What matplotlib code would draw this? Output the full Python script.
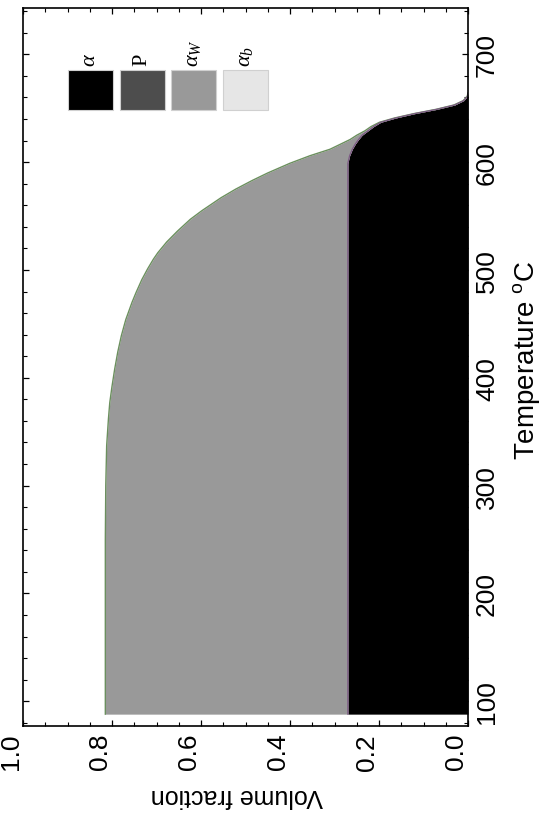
import matplotlib
matplotlib.use("Agg")
import matplotlib.pyplot as plt
from matplotlib.patches import Rectangle
from matplotlib.ticker import MultipleLocator

plt.rcParams['font.family'] = ['Liberation Sans', 'DejaVu Sans']
plt.rcParams['mathtext.fontset'] = 'custom'
plt.rcParams['mathtext.rm'] = 'Liberation Sans'
plt.rcParams['mathtext.it'] = 'Liberation Serif:italic'
plt.rcParams['mathtext.bf'] = 'Liberation Sans:bold'

# Temperature (deg C)
temperature = [88, 150, 200, 250, 300, 337, 362, 377, 392, 408, 424, 439, 454, 470, 479,
               491, 501, 510, 516, 526, 536, 547, 555, 567, 575, 583, 590, 599,
               606, 612, 617, 621, 625, 629, 633, 637, 641, 645, 649, 653, 657, 661, 664]
# volume fraction of alpha (allotriomorphic ferrite)
alpha = [0.270, 0.270, 0.270, 0.270, 0.270, 0.270, 0.270, 0.270, 0.270, 0.270, 0.270,
         0.270, 0.270, 0.270, 0.270, 0.270, 0.270, 0.270, 0.270, 0.270, 0.270, 0.270,
         0.270, 0.270, 0.270, 0.270, 0.270, 0.270,
         0.266, 0.260, 0.253, 0.246, 0.238, 0.225, 0.212, 0.196, 0.162, 0.120, 0.070,
         0.030, 0.010, 0.001, 0.0]
# Widmanstatten ferrite fraction (alpha_W)
alpha_w = [0.545, 0.545, 0.545, 0.545, 0.544, 0.542, 0.538, 0.535, 0.530, 0.524, 0.517,
           0.509, 0.499, 0.485, 0.476, 0.463, 0.450, 0.437, 0.427, 0.407, 0.383, 0.354,
           0.328, 0.285, 0.252, 0.215, 0.180, 0.130,
           0.089, 0.050, 0.032, 0.019, 0.012, 0.007, 0.006, 0.003, 0.003, 0.002, 0.002,
           0.002, 0.001, 0.001, 0.0]
total = [a + w for a, w in zip(alpha, alpha_w)]

legend_labels = [r'$\alpha$', r'$\mathregular{P}$', r'$\alpha_W$', r'$\alpha_b$']
legend_colors = ['#000000', '#4d4d4d', '#999999', '#e6e6e6']

x_ticks = [0.0, 0.2, 0.4, 0.6, 0.8, 1.0]
y_ticks = [100, 200, 300, 400, 500, 600, 700]

fig = plt.figure(figsize=(5.42, 8.2), dpi=100)
ax = fig.add_axes([23/542, 1 - 727/820, 445/542, 718/820])

ax.fill_betweenx(temperature, 0, alpha, color='#000000', lw=0)
ax.fill_betweenx(temperature, alpha, total, color='#999999', lw=0)
ax.plot(total, temperature, color='#6b8f5e', lw=1.0)
ax.plot(alpha, temperature, color='#7d5a85', lw=0.9)

ax.set_xlim(1.0, 0.0)
ax.set_ylim(77, 743)

ax.set_xticks(x_ticks)
ax.set_xticklabels(['%.1f' % v for v in x_ticks], rotation=90, ha='right', va='top')
ax.xaxis.set_minor_locator(MultipleLocator(0.05))
ax.set_yticks(y_ticks)
ax.yaxis.set_minor_locator(MultipleLocator(20))
ax.yaxis.tick_right()
ax.set_yticklabels([str(v) for v in y_ticks], rotation=90, va='center', ha='left')

ax.tick_params(which='both', direction='in', top=True, bottom=True, left=True, right=True,
               labelleft=False, labelright=True, labelsize=19, colors='black')
ax.tick_params(which='major', length=4.5, width=0.9, pad=5)
ax.tick_params(which='minor', length=2.8, width=0.8)
for s in ax.spines.values():
    s.set_linewidth(1.2)

ax.set_xlabel('Volume fraction', fontsize=18, rotation=180)
ax.xaxis.set_label_coords(0.481, -0.079)
ax.yaxis.set_label_position('right')
ax.set_ylabel(r'Temperature $\mathregular{^{o}}$C', fontsize=20, rotation=90)
ax.yaxis.set_label_coords(1.097, 0.51)

# legend swatches (axes coords)
sw_x = [0.1004, 0.218, 0.332, 0.449]
sw_w = 0.102
sw_y0 = 0.858
sw_h = 0.0556
for lab, col, x0 in zip(legend_labels, legend_colors, sw_x):
    ax.add_patch(Rectangle((x0, sw_y0), sw_w, sw_h, transform=ax.transAxes,
                           facecolor=col, edgecolor='#d0d0d0', lw=0.8, clip_on=False))
    ax.text(x0 + sw_w / 2, sw_y0 + sw_h + 0.006, lab, transform=ax.transAxes,
            rotation=90, ha='center', va='bottom', fontsize=16,
            family=['Liberation Serif'])

fig.savefig('out.png', dpi=100)
